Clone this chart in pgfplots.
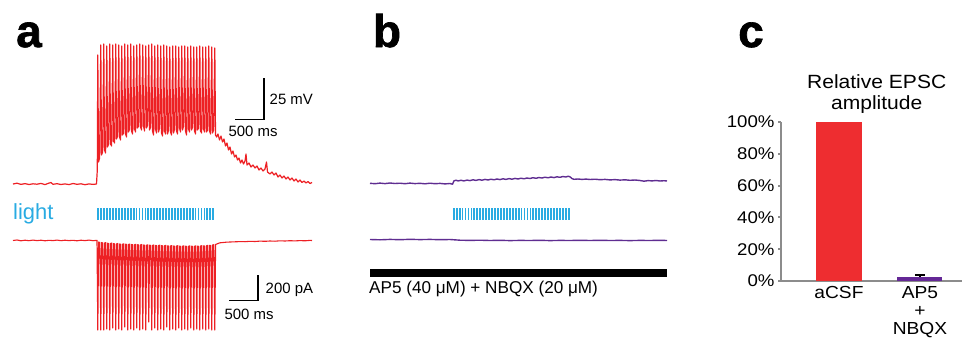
\documentclass[border=0pt]{standalone}
\usepackage{pgfplots}
\pgfplotsset{compat=1.18}
\usepackage{fontspec}
\setmainfont{Liberation Sans}
\newfontfamily\cfont[FakeStretch=1.1]{Liberation Sans}
\newfontfamily\letterfont[BoldFeatures={FakeBold=1.5}]{Liberation Sans}
\definecolor{trred}{RGB}{237,32,36}
\definecolor{barred}{RGB}{238,45,48}
\definecolor{trpurple}{RGB}{95,45,145}
\definecolor{barpurple}{RGB}{100,40,150}
\definecolor{lightblue}{RGB}{41,171,226}
\definecolor{axisgray}{RGB}{140,140,140}
\begin{document}
\begin{tikzpicture}
\path[use as bounding box] (0,0) rectangle (962bp,340bp);
\begin{axis}[at={(0,0)}, anchor=south west, scale only axis,
  width=962bp, height=340bp, xmin=0, xmax=962, ymin=0, ymax=340,
  y dir=reverse, hide axis, clip=false]
% ---- panel a: membrane potential
\addplot[trred, line width=1.2bp, line join=round] coordinates {
(13,184)(17,183.2)(21,184.4)(25,183.6)(29,184.5)(33,183.8)(37,184.2)(41,183.4)(45,184.6)(49,183.1)(51,182.5)(53,184.3)(57,183.7)(61,184.5)(65,183.9)(69,184.6)(73,183.5)(77,184.3)(81,183.8)(85,184.7)(89,183.9)(93,184.4)(96.5,184)(97.3,170)
(97.8,55)(98.5,162)(99.6,158)
(100.8,45)(101.5,155)(102.6,152)
(103.8,44)(104.5,150)(105.6,153)
(106.8,46)(107.5,147)(108.6,144)
(109.8,44)(110.5,144)(111.6,146)
(112.8,45)(113.5,141)(114.6,143)
(115.8,44)(116.5,139)(117.6,136)
(118.8,45)(119.5,137)(120.6,140)
(121.8,46)(122.5,135)(123.6,133)
(124.8,44)(125.5,134)(126.6,137)
(127.8,45)(128.5,132)(129.6,129)
(130.8,44)(131.5,131)(132.6,134)
(133.8,46)(134.5,129)(135.6,132)
(136.8,45)(137.5,128)(138.6,126)
(139.8,44)(140.5,127)(141.6,130)
(142.8,45)(143.5,126)(144.6,131)
(145.8,46)(146.5,128)(147.6,125)
(148.8,45)(149.5,130)(150.6,127)
(151.8,44)(152.5,131)(153.6,135)
(154.8,46)(155.5,129)(156.6,133)
(157.8,45)(158.5,132)(159.6,128)
(160.8,46)(161.5,133)(162.6,136)
(163.8,45)(164.5,131)(165.6,134)
(166.8,46)(167.5,134)(168.6,130)
(169.8,47)(170.5,132)(171.6,135)
(172.8,46)(173.5,133)(174.6,129)
(175.8,46)(176.5,131)(177.6,134)
(178.8,47)(179.5,128)(180.6,132)
(181.8,46)(182.5,130)(183.6,126)
(184.8,46)(185.5,131)(186.6,135)
(187.8,47)(188.5,129)(189.6,132)
(190.8,46)(191.5,130)(192.6,127)
(193.8,47)(194.5,131)(195.6,134)
(196.8,47)(197.5,130)(198.6,128)
(199.8,46)(200.5,131)(201.6,133)
(202.8,47)(203.5,129)(204.6,132)
(205.8,47)(206.5,132)(207.6,130)
(208.8,46)(209.5,131)(210.6,134)
(211.8,47)(212.5,133)(213.6,130)
(214.8,48)(215.5,135)(216.6,137)
(218,134)(219.5,140)(221,136)(222.5,142)(224,139)(225.5,146)(227,143)(228.5,150)(230,147)(231.5,154)(233,151)(234.5,157)(236,155)(237.5,160)(239,158)(240.5,163)(242,160)(243.5,164)(245,161)(246,154)(247,165)(249,163)(251,167)(253,165)(255,168)(257,166)(259,170)(261,168)(263,171)(265,169)(266.5,162)(267.5,172)(270,174)(272,172)(274,175)(276,173)(278,177)(280,175)(282,178)(284,176)(286,179)(288,177)(290,180)(292,178)(294,181)(296,179)(298,182)(300,180)(302,182.5)(304,181)(306,183)(308,181.5)(310,183.5)(312,182.5)
};
% ---- panel a: current
\addplot[trred, line width=1.1bp, line join=round] coordinates {
(13,240.5)(17,240)(21,240.8)(25,240.2)(29,240.7)(33,240.1)(37,240.6)(41,240.2)(45,240.8)(49,240.3)(53,240.6)(57,240.1)(61,240.7)(65,240.2)(69,240.6)(73,240.3)(77,240.8)(81,240.2)(85,240.6)(89,240.1)(93,240.7)(97,240.3)
(97.8,330)(98.6,242.0)(99.8,242.5)
(100.8,330)(101.6,242.5)(102.8,243.0)
(103.8,330)(104.6,243.0)(105.8,242.6)
(106.8,329)(107.6,243.2)(108.8,243.6)
(109.8,330)(110.6,243.4)(111.8,243.0)
(112.8,328)(113.6,243.6)(114.8,244.0)
(115.8,330)(116.6,243.8)(117.8,243.5)
(118.8,329)(119.6,244.0)(120.8,244.3)
(121.8,330)(122.6,244.1)(123.8,243.8)
(124.8,327)(125.6,244.2)(126.8,244.5)
(127.8,330)(128.6,244.4)(129.8,244.1)
(130.8,329)(131.6,244.5)(132.8,244.8)
(133.8,330)(134.6,244.6)(135.8,244.3)
(136.8,328)(137.6,244.7)(138.8,245.0)
(139.8,330)(140.6,244.8)(141.8,244.5)
(142.8,329)(143.6,245.0)(144.8,245.3)
(145.8,330)(146.6,245.1)(147.8,244.8)
(148.8,322)(149.6,245.2)(150.8,245.5)
(151.8,330)(152.6,245.3)(153.8,245.0)
(154.8,328)(155.6,245.4)(156.8,245.7)
(157.8,330)(158.6,245.5)(159.8,245.2)
(160.8,329)(161.6,245.6)(162.8,245.9)
(163.8,330)(164.6,245.7)(165.8,245.4)
(166.8,327)(167.6,245.8)(168.8,246.1)
(169.8,330)(170.6,245.9)(171.8,245.6)
(172.8,329)(173.6,246.0)(174.8,246.3)
(175.8,330)(176.6,246.0)(177.8,245.7)
(178.8,328)(179.6,246.1)(180.8,246.4)
(181.8,330)(182.6,246.1)(183.8,245.8)
(184.8,329)(185.6,246.2)(186.8,246.5)
(187.8,330)(188.6,246.2)(189.8,245.9)
(190.8,328)(191.6,246.2)(192.8,246.5)
(193.8,330)(194.6,246.2)(195.8,245.9)
(196.8,329)(197.6,246.1)(198.8,246.4)
(199.8,330)(200.6,246.0)(201.8,245.7)
(202.8,329)(203.6,245.8)(204.8,246.1)
(205.8,330)(206.6,245.6)(207.8,245.3)
(208.8,329)(209.6,245.3)(210.8,245.6)
(211.8,330)(212.6,245.0)(213.8,244.7)
(214.8,330)(215.6,244.5)(216.8,244.0)
(218,243.5)(220,242.8)(223,242.5)(226,242.2)(230,242)(235,241.8)(240,241.6)(245,241.7)(250,241.3)(255,241.5)(260,241.1)(265,241.3)(270,241)(275,241.2)(280,240.8)(285,241)(290,240.7)(295,240.9)(300,240.6)(305,240.8)(310,240.4)(312,240.5)
};
% ---- light pulses a
\addplot[only marks, mark=|, mark size=6bp, mark options={draw=lightblue, line width=1.8bp}] coordinates {
(98.20,214)(101.15,214)(104.10,214)(107.05,214)(110.00,214)(112.95,214)(115.90,214)(118.85,214)(121.80,214)(124.75,214)
(127.70,214)(130.65,214)(133.60,214)(136.55,214)(139.50,214)(142.45,214)(145.40,214)(148.35,214)(151.30,214)(154.25,214)
(157.20,214)(160.15,214)(163.10,214)(166.05,214)(169.00,214)(171.95,214)(174.90,214)(177.85,214)(180.80,214)(183.75,214)
(186.70,214)(189.65,214)(192.60,214)(195.55,214)(198.50,214)(201.45,214)(204.40,214)(207.35,214)(210.30,214)(213.25,214)
};
% ---- light pulses b
\addplot[only marks, mark=|, mark size=6bp, mark options={draw=lightblue, line width=1.8bp}] coordinates {
(453.70,214)(456.65,214)(459.60,214)(462.55,214)(465.50,214)(468.45,214)(471.40,214)(474.35,214)(477.30,214)(480.25,214)
(483.20,214)(486.15,214)(489.10,214)(492.05,214)(495.00,214)(497.95,214)(500.90,214)(503.85,214)(506.80,214)(509.75,214)
(512.70,214)(515.65,214)(518.60,214)(521.55,214)(524.50,214)(527.45,214)(530.40,214)(533.35,214)(536.30,214)(539.25,214)
(542.20,214)(545.15,214)(548.10,214)(551.05,214)(554.00,214)(556.95,214)(559.90,214)(562.85,214)(565.80,214)(568.75,214)
};
% ---- scale bars
\addplot[black, line width=1.6bp] coordinates {(235,119.5)(264,119.5)(264,78)};
\addplot[black, line width=1.6bp] coordinates {(229,300.5)(257.7,300.5)(257.7,275)};
% ---- panel b traces
\addplot[trpurple, line width=1.4bp, line join=round] coordinates {
(370,183.3)(375,183.7)(380,183.1)(385,183.6)(390,183.0)(395,183.5)(400,183.2)(405,183.7)(410,183.1)(415,183.6)(420,183.3)(425,183.8)(430,183.2)(435,183.7)(440,183.4)(445,183.9)(450,183.5)(452.5,184.2)(454,180.8)(456,180.2)(458,180.9)(461,180.3)(464,180.9)(467,180.1)(470,180.6)(473,179.8)(476,180.4)(479,179.6)(482,180.2)(485,179.4)(488,180.0)(491,179.2)(494,179.8)(497,179.0)(500,179.6)(503,178.8)(506,179.4)(509,178.6)(512,179.2)(515,178.4)(518,179.0)(521,178.2)(524,178.8)(527,178.0)(530,178.5)(533,177.7)(536,178.3)(539,177.5)(542,178.0)(545,177.2)(548,177.8)(551,177.0)(554,177.6)(557,176.8)(560,177.3)(563,176.5)(566,177.0)(568,176.2)(570,176.8)(572,178.6)(574,179.3)(578,179.0)(582,179.4)(586,179.1)(590,179.5)(595,179.2)(600,179.7)(605,179.4)(610,179.9)(615,179.6)(620,180.1)(625,179.8)(630,180.3)(635,180.0)(640,180.5)(644,181.2)(648,180.6)(652,180.9)(656,180.5)(660,181.0)(664,180.7)(667,181.0)
};
\addplot[trpurple, line width=1.4bp, line join=round] coordinates {
(370,239.5)(380,239.8)(390,239.4)(400,239.7)(410,239.3)(420,239.6)(430,239.4)(440,239.7)(450,239.5)(460,240.2)(470,240.4)(480,240.2)(490,240.5)(500,240.3)(510,240.6)(520,240.4)(530,240.5)(540,240.3)(550,240.6)(560,240.4)(570,240.5)(580,240.3)(590,240.5)(600,240.3)(610,240.5)(620,240.4)(630,240.6)(640,240.4)(650,240.5)(660,240.3)(667,240.5)
};
% ---- drug bar
\addplot[black, line width=8bp] coordinates {(370,273.3)(667,273.3)};
% ---- texts
\node[anchor=base, inner sep=0pt, font=\letterfont\bfseries\fontsize{46}{48}\selectfont] at (29,47) {a};
\node[anchor=base, inner sep=0pt, font=\letterfont\bfseries\fontsize{46}{48}\selectfont] at (387,47) {b};
\node[anchor=base, inner sep=0pt, font=\letterfont\bfseries\fontsize{46}{48}\selectfont] at (751,47) {c};
\node[anchor=west, inner sep=0pt, text=lightblue, font=\fontsize{22}{24}\selectfont] at (13,214) {light};
\node[anchor=west, inner sep=0pt, font=\fontsize{15}{18}\selectfont] at (269.5,99) {25 mV};
\node[anchor=center, inner sep=0pt, font=\fontsize{15}{18}\selectfont] at (253,131.7) {500 ms};
\node[anchor=west, inner sep=0pt, font=\fontsize{15}{18}\selectfont] at (265.5,289.5) {200 pA};
\node[anchor=center, inner sep=0pt, font=\fontsize{15}{18}\selectfont] at (249,314.3) {500 ms};
\node[anchor=west, inner sep=0pt, font=\fontsize{17.2}{19}\selectfont] at (369,289.5) {AP5 (40 μM) + NBQX (20 μM)};
\node[anchor=center, inner sep=0pt, align=center, font=\cfont\fontsize{19.2}{21.6}\selectfont] at (876.7,94) {Relative EPSC\\amplitude};
\end{axis}
% ---- panel c
\begin{axis}[at={(781bp,59bp)}, anchor=south west, scale only axis,
  width=181bp, height=159bp,
  xmin=0.284, xmax=2.519, ymin=0, ymax=100,
  axis x line*=bottom, axis y line*=left,
  axis line style={draw=axisgray, line width=2bp},
  ytick={0,20,40,60,80,100},
  yticklabels={0\%,20\%,40\%,60\%,80\%,100\%},
  xtick={1,2}, xticklabels={aCSF,{AP5\\+\\NBQX}},
  xticklabel style={align=center, inner sep=2bp, font=\cfont\fontsize{17.5}{18}\selectfont},
  yticklabel style={font=\cfont\fontsize{17}{19}\selectfont},
  /pgf/number format/assume math mode=true,
  tick align=outside, major tick length=3bp,
  ytick style={draw=axisgray, line width=2bp},
  xtick style={draw=none},
  clip=false]
\addplot[ybar, bar shift=0pt, bar width=0.556, fill=barred, draw=none] coordinates {(1,100)};
\addplot[ybar, bar shift=0pt, bar width=0.556, fill=barpurple, draw=none,
  error bars/.cd, y dir=plus, y explicit, error mark=|, error bar style={black, line width=1.2bp},
  error mark options={black, line width=1.5bp, mark size=5bp}] coordinates {(2,2.8) +- (0,1.0)};
\end{axis}
\end{tikzpicture}
\end{document}
